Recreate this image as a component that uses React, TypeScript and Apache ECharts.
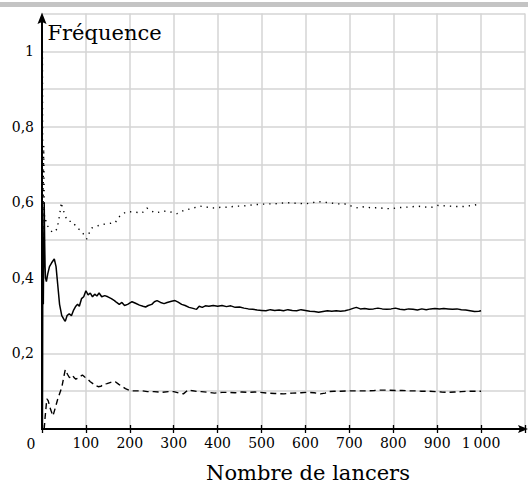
import React, { useEffect, useRef } from "react";
import * as echarts from "echarts";

const xTicks = [0, 100, 200, 300, 400, 500, 600, 700, 800, 900, 1000, 1100];
const xTickLabels = ["", "100", "200", "300", "400", "500", "600", "700", "800", "900", "1\u2009000", ""];
const yLabelMap: Record<number, string> = { 2: "0,2", 4: "0,4", 6: "0,6", 8: "0,8", 10: "1" };

const solid: [number, number][] = [
  [1, 0], [2, 0.5], [3, 0.33], [4, 0.5], [5, 0.6], [6, 0.5], [7, 0.43], [8, 0.4], [10, 0.39], [13, 0.41],
  [17, 0.43], [22, 0.44], [28, 0.45], [32, 0.43], [36, 0.38], [40, 0.33], [45, 0.3], [50, 0.29], [53, 0.285],
  [57, 0.3], [62, 0.305], [67, 0.3], [72, 0.315], [77, 0.325], [81, 0.33], [85, 0.325], [90, 0.345], [95, 0.35],
  [100, 0.366], [105, 0.355], [110, 0.36], [115, 0.35], [120, 0.357], [125, 0.352], [130, 0.36], [136, 0.35],
  [143, 0.353], [150, 0.35], [158, 0.345], [165, 0.34], [170, 0.335], [176, 0.33], [182, 0.335], [188, 0.327],
  [195, 0.33], [205, 0.337], [213, 0.333], [222, 0.328], [230, 0.325], [236, 0.323], [242, 0.327], [250, 0.33],
  [256, 0.337], [262, 0.34], [270, 0.335], [278, 0.332], [285, 0.335], [295, 0.338], [303, 0.34], [310, 0.336],
  [318, 0.33], [326, 0.327], [335, 0.322], [342, 0.32], [348, 0.318], [352, 0.317], [358, 0.325], [365, 0.322],
  [372, 0.326], [380, 0.325], [390, 0.327], [400, 0.325], [410, 0.327], [420, 0.324], [430, 0.326], [440, 0.322],
  [450, 0.323], [460, 0.32], [470, 0.318], [480, 0.317], [490, 0.315], [500, 0.314], [510, 0.313], [520, 0.316],
  [530, 0.314], [540, 0.315], [550, 0.313], [560, 0.316], [570, 0.314], [580, 0.313], [590, 0.316], [600, 0.314],
  [610, 0.312], [620, 0.311], [630, 0.309], [640, 0.311], [650, 0.313], [660, 0.312], [670, 0.313], [680, 0.312],
  [690, 0.313], [700, 0.316], [710, 0.32], [716, 0.322], [725, 0.318], [735, 0.319], [745, 0.317], [755, 0.318],
  [765, 0.32], [775, 0.318], [785, 0.317], [795, 0.318], [805, 0.32], [815, 0.317], [825, 0.316], [835, 0.318],
  [845, 0.317], [855, 0.315], [865, 0.318], [875, 0.316], [885, 0.318], [895, 0.319], [905, 0.318], [915, 0.319],
  [925, 0.318], [935, 0.317], [945, 0.318], [955, 0.316], [965, 0.315], [975, 0.313], [985, 0.311], [995, 0.312],
  [1000, 0.313],
];

const dotted: [number, number][] = [
  [1, 1], [2, 0.5], [3, 0.67], [4, 0.75], [5, 0.6], [6, 0.55], [8, 0.56], [10, 0.54], [15, 0.535], [20, 0.525],
  [25, 0.52], [30, 0.525], [35, 0.53], [37, 0.548], [40, 0.565], [44, 0.6], [46, 0.588], [51, 0.571], [57, 0.552],
  [63, 0.55], [70, 0.549], [75, 0.54], [80, 0.532], [89, 0.525], [95, 0.515], [102, 0.503], [108, 0.52],
  [113, 0.532], [120, 0.535], [130, 0.539], [140, 0.542], [149, 0.543], [158, 0.545], [167, 0.546], [173, 0.56],
  [180, 0.565], [190, 0.574], [200, 0.575], [212, 0.574], [228, 0.572], [239, 0.585], [248, 0.578], [258, 0.572],
  [270, 0.575], [282, 0.577], [295, 0.574], [307, 0.57], [322, 0.578], [335, 0.582], [345, 0.585], [360, 0.59],
  [373, 0.588], [386, 0.585], [400, 0.586], [412, 0.588], [423, 0.587], [440, 0.59], [455, 0.59], [470, 0.592],
  [484, 0.594], [500, 0.595], [514, 0.596], [530, 0.596], [545, 0.598], [559, 0.599], [575, 0.598], [590, 0.597],
  [600, 0.596], [615, 0.599], [630, 0.602], [645, 0.6], [660, 0.598], [675, 0.596], [689, 0.596], [705, 0.59],
  [720, 0.585], [735, 0.589], [750, 0.585], [765, 0.586], [780, 0.584], [795, 0.583], [810, 0.586], [825, 0.587],
  [840, 0.588], [855, 0.59], [870, 0.588], [885, 0.586], [900, 0.592], [915, 0.591], [930, 0.59], [945, 0.589],
  [960, 0.589], [975, 0.591], [990, 0.594], [1000, 0.594],
];

const dashed: [number, number][] = [
  [5, 0], [7, 0.03], [11, 0.08], [14, 0.075], [20, 0.05], [25, 0.035], [30, 0.055], [36, 0.08], [45, 0.11],
  [50, 0.14], [53, 0.157], [58, 0.145], [62, 0.137], [66, 0.135], [70, 0.141], [74, 0.135], [77, 0.132],
  [82, 0.135], [88, 0.14], [92, 0.143], [98, 0.137], [104, 0.132], [110, 0.125], [116, 0.12], [122, 0.115],
  [128, 0.112], [134, 0.113], [141, 0.119], [148, 0.12], [155, 0.123], [160, 0.125], [167, 0.125], [175, 0.118],
  [182, 0.113], [190, 0.107], [201, 0.101], [212, 0.101], [228, 0.101], [240, 0.099], [255, 0.099], [273, 0.097],
  [288, 0.099], [300, 0.099], [312, 0.095], [322, 0.093], [333, 0.104], [340, 0.102], [356, 0.099], [363, 0.099],
  [380, 0.097], [393, 0.095], [410, 0.097], [425, 0.097], [440, 0.096], [455, 0.098], [470, 0.097], [485, 0.098],
  [498, 0.097], [515, 0.095], [530, 0.094], [551, 0.093], [570, 0.095], [590, 0.096], [604, 0.097], [620, 0.096],
  [634, 0.093], [645, 0.095], [652, 0.099], [665, 0.1], [680, 0.1], [701, 0.101], [720, 0.101], [740, 0.101],
  [757, 0.102], [772, 0.103], [788, 0.103], [805, 0.102], [820, 0.102], [836, 0.101], [851, 0.101], [865, 0.1],
  [880, 0.1], [896, 0.099], [910, 0.098], [926, 0.097], [940, 0.098], [955, 0.099], [970, 0.1], [985, 0.1],
  [994, 0.1], [1000, 0.1],
];

const FONT = "DejaVu Serif";
const GL = 42;
const GT = 13.5;
const GW = 488.4;
const GH = 415.5;

export default function App() {
  const ref = useRef<HTMLDivElement>(null);
  useEffect(() => {
    if (!ref.current) return;
    const chart = echarts.init(ref.current, null, { renderer: "svg" });
    const ox = GL;
    const oy = GT + GH;
    const option: any = {
      animation: false,
      backgroundColor: "#ffffff",
      grid: { left: GL, top: GT, width: GW, height: GH, containLabel: false },
      xAxis: [
        {
          type: "value",
          min: 0,
          max: 1100,
          interval: 100,
          axisLine: { show: false },
          axisTick: { show: true, length: 4, lineStyle: { color: "#000", width: 1.3 } },
          axisLabel: {
            color: "#000",
            fontFamily: FONT,
            fontSize: 14,
            margin: 7,
            showMaxLabel: true,
            formatter: (v: number) => {
              const i = xTicks.indexOf(Math.round(v));
              return i >= 0 ? xTickLabels[i] : "";
            },
          },
          splitLine: { show: true, lineStyle: { color: "#d4d4d4", width: 1.5 } },
        },
        {
          type: "value",
          min: 0,
          max: 1100,
          interval: 100,
          position: "bottom",
          axisLine: { show: false },
          axisTick: { show: true, inside: true, length: 4, lineStyle: { color: "#000", width: 1.3 } },
          axisLabel: { show: false },
          splitLine: { show: false },
        },
      ],
      yAxis: {
        type: "value",
        min: 0,
        max: 1.1,
        interval: 0.1,
        axisLine: { show: false },
        axisTick: { show: false },
        axisLabel: {
          color: "#000",
          fontFamily: FONT,
          fontSize: 14,
          margin: 8,
          showMaxLabel: true,
          formatter: (v: number) => yLabelMap[Math.round(v * 10)] || "",
        },
        splitLine: { show: true, lineStyle: { color: "#d4d4d4", width: 1.5 } },
      },
      series: [
        {
          type: "line",
          data: solid,
          showSymbol: false,
          lineStyle: { color: "#000", width: 1.5 },
          z: 3,
        },
        {
          type: "line",
          data: dotted,
          showSymbol: false,
          lineStyle: { color: "#000", width: 1.4, type: [1.3, 5] },
          z: 3,
        },
        {
          type: "line",
          data: dashed,
          showSymbol: false,
          lineStyle: { color: "#000", width: 1.4, type: [6, 4] },
          z: 3,
        },
      ],
      graphic: [
        { type: "rect", z: 20, shape: { x: 0, y: 2, width: 528, height: 5 }, style: { fill: "#c4c4c4" } },
        { type: "line", z: 20, shape: { x1: ox, y1: oy + 1, x2: ox, y2: 22 }, style: { stroke: "#000", lineWidth: 2 } },
        { type: "polygon", z: 20, shape: { points: [[ox, 12.5], [ox - 4.5, 24], [ox, 22], [ox + 4.5, 24]] }, style: { fill: "#000" } },
        { type: "line", z: 20, shape: { x1: ox - 1, y1: oy, x2: 520, y2: oy }, style: { stroke: "#000", lineWidth: 2 } },
        { type: "polygon", z: 20, shape: { points: [[528, oy], [518, oy - 4], [520, oy], [518, oy + 4]] }, style: { fill: "#000" } },
        { type: "text", z: 20, x: 31, y: 444, style: { text: "0", font: `14px '${FONT}'`, fill: "#000", align: "center", verticalAlign: "middle" } },
        { type: "text", z: 20, x: 47.5, y: 32.5, style: { text: "Fréquence", font: `21px '${FONT}'`, fill: "#000", align: "left", verticalAlign: "middle" } },
        { type: "text", z: 20, x: 308, y: 473, style: { text: "Nombre de lancers", font: `21px '${FONT}'`, fill: "#000", align: "center", verticalAlign: "middle" } },
      ],
    };
    chart.setOption(option);
    return () => chart.dispose();
  }, []);
  return (
    <div
      ref={ref}
      style={{ position: "fixed", left: 0, top: 0, width: 528, height: 487, background: "#fff" }}
    />
  );
}
